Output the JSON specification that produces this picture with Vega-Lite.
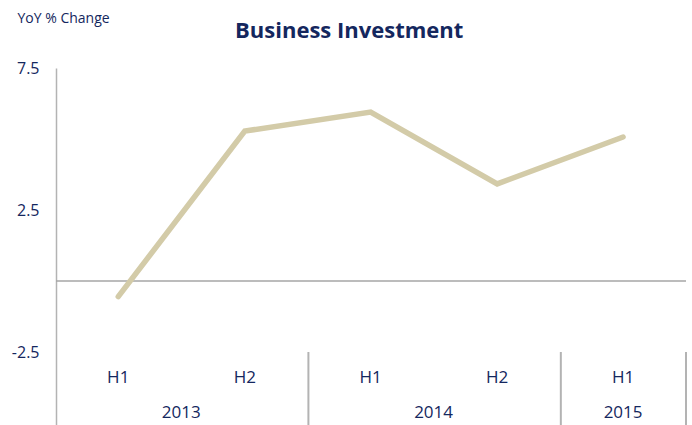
{
  "$schema": "https://vega.github.io/schema/vega-lite/v6.json",
  "width": 630,
  "height": 357,
  "autosize": {"type": "none"},
  "padding": {"left": 56, "top": 68, "right": 6, "bottom": 0},
  "background": "white",
  "config": {"view": {"stroke": null}},
  "title": {
    "text": "Business Investment",
    "fontSize": 22,
    "fontWeight": "bold",
    "color": "#14275e",
    "font": "Open Sans",
    "anchor": "middle",
    "frame": "bounds",
    "baseline": "alphabetic",
    "offset": -49
  },
  "data": {
    "values": [
      {"date": "2013-04-01", "half": "H1", "value": -0.55},
      {"date": "2013-10-01", "half": "H2", "value": 5.28},
      {"date": "2014-04-01", "half": "H1", "value": 5.95},
      {"date": "2014-10-01", "half": "H2", "value": 3.42},
      {"date": "2015-04-01", "half": "H1", "value": 5.07}
    ]
  },
  "layer": [
    {
      "data": {"values": [
        {"date": "2014-01-01", "top": -2.5, "bottom": -5.07},
        {"date": "2015-01-01", "top": -2.5, "bottom": -5.07},
        {"date": "2015-07-01", "top": -2.5, "bottom": -5.07}
      ]},
      "mark": {"type": "rule", "color": "#b3b3b3", "strokeWidth": 2},
      "encoding": {
        "x": {"field": "date", "type": "temporal", "axis": null},
        "y": {"field": "top", "type": "quantitative"},
        "y2": {"field": "bottom"}
      }
    },
    {
      "data": {"values": [{"v": 0}]},
      "mark": {"type": "rule", "color": "#a6a6a6", "strokeWidth": 1.5},
      "encoding": {
        "y": {"field": "v", "type": "quantitative"}
      }
    },
    {
      "mark": {"type": "line", "color": "#d3cba8", "strokeWidth": 5.5, "strokeCap": "round"},
      "encoding": {
        "x": {
          "field": "date",
          "type": "temporal",
          "scale": {"domain": [{"year": 2013, "month": 1, "date": 1}, {"year": 2015, "month": 7, "date": 1}]},
          "axis": null
        },
        "y": {
          "field": "value",
          "type": "quantitative",
          "scale": {"domain": [-5.07, 7.5], "nice": false, "zero": false},
          "axis": {
            "values": [-2.5, 2.5, 7.5],
            "labelExpr": "replace(format(datum.value, '.1f'), '\u2212', '-')",
            "grid": false,
            "ticks": false,
            "domainColor": "#b3b3b3",
            "domainWidth": 1.5,
            "labelColor": "#14275e",
            "labelFontSize": 16,
            "labelFont": "Open Sans",
            "labelPadding": 17,
            "title": "YoY % Change",
            "titleAngle": 0,
            "titleAlign": "left",
            "titleBaseline": "middle",
            "titleX": -39,
            "titleY": -50,
            "titleFont": "Open Sans",
            "titleFontSize": 14,
            "titleFontWeight": "normal",
            "titleColor": "#14275e"
          }
        }
      }
    },
    {
      "mark": {"type": "text", "color": "#14275e", "fontSize": 17, "font": "Open Sans", "baseline": "middle"},
      "encoding": {
        "x": {"field": "date", "type": "temporal", "axis": null},
        "y": {"datum": -3.42, "type": "quantitative"},
        "text": {"field": "half"}
      }
    },
    {
      "data": {"values": [
        {"date": "2013-07-01", "year": "2013"},
        {"date": "2014-07-01", "year": "2014"},
        {"date": "2015-04-01", "year": "2015"}
      ]},
      "mark": {"type": "text", "color": "#14275e", "fontSize": 17, "font": "Open Sans", "baseline": "middle"},
      "encoding": {
        "x": {"field": "date", "type": "temporal", "axis": null},
        "y": {"datum": -4.66, "type": "quantitative"},
        "text": {"field": "year"}
      }
    }
  ]
}
